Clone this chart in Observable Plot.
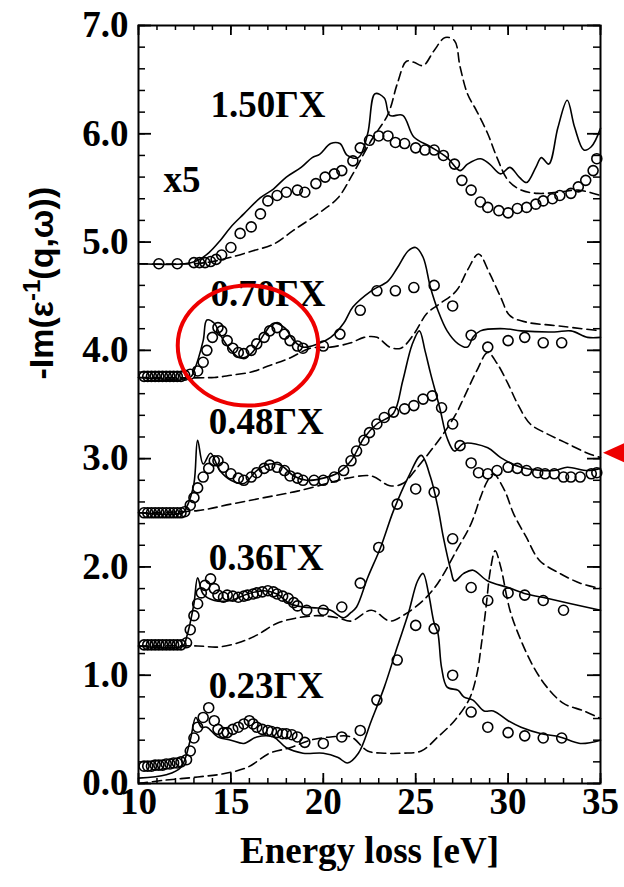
<!DOCTYPE html>
<html><head><meta charset="utf-8">
<script src="https://cdn.jsdelivr.net/npm/d3@7"></script>
<script src="https://cdn.jsdelivr.net/npm/@observablehq/plot@0.6"></script>
<style>body{margin:0;background:#fff} #chart svg{display:block}</style>
</head><body><div id="chart"></div>
<script>
// ---------- data (energy loss eV, -Im(1/eps) with vertical offsets as plotted) ----------
const qNames = ["1.50ΓX","0.70ΓX","0.48ΓX","0.36ΓX","0.23ΓX"];

// 1.50 GX (x5)
const s150 = [[10,4.80],[12.5,4.80],[13.2,4.83],[13.8,4.90],[14.4,5.01],[15.0,5.14],[15.7,5.26],[16.6,5.41],[17.3,5.49],[18.0,5.60],[18.8,5.69],[19.4,5.78],[19.8,5.81],[20.4,5.91],[20.9,5.91],[21.3,5.80],[21.9,5.78],[22.4,6.00],[22.8,6.37],[23.3,6.33],[23.6,6.17],[24.3,6.17],[24.9,5.97],[25.8,5.88],[26.7,5.78],[27.4,5.66],[27.8,5.72],[28.5,5.77],[29.0,5.72],[29.6,5.63],[30.1,5.69],[30.6,5.60],[31.0,5.55],[31.5,5.69],[31.8,5.78],[32.2,5.72],[32.7,6.06],[33.2,6.31],[33.6,6.06],[34.1,5.85],[34.5,5.88],[35.0,6.05]];
const d150 = [[10,4.80],[13.0,4.80],[14.0,4.82],[15.0,4.86],[16.2,4.92],[17.3,4.98],[18.4,5.11],[19.7,5.26],[20.8,5.41],[21.6,5.63],[22.6,5.94],[23.5,6.18],[24.0,6.46],[24.5,6.67],[24.9,6.66],[25.4,6.63],[26.0,6.77],[26.6,6.89],[27.1,6.86],[27.4,6.62],[27.8,6.37],[28.3,6.21],[28.9,6.00],[29.4,5.78],[30.0,5.57],[30.7,5.48],[31.6,5.45],[32.7,5.46],[33.8,5.48],[35.0,5.43]];
const c150 = [[11.1,4.80],[12.1,4.80],[13.0,4.81],[13.3,4.81],[13.6,4.81],[13.9,4.82],[14.2,4.84],[14.5,4.88],[15.0,4.95],[15.5,5.08],[16.1,5.14],[16.6,5.26],[17.0,5.38],[17.5,5.43],[18.0,5.46],[18.6,5.48],[19.0,5.46],[19.6,5.54],[20.1,5.60],[20.6,5.63],[21.0,5.66],[21.6,5.75],[22.0,5.87],[22.5,5.94],[23.0,5.98],[23.5,5.98],[23.9,5.92],[24.4,5.91],[25.0,5.87],[25.5,5.85],[26.0,5.85],[26.5,5.80],[27.1,5.72],[27.5,5.57],[28.0,5.48],[28.5,5.37],[28.9,5.32],[29.5,5.29],[30.0,5.27],[30.5,5.31],[31.0,5.32],[31.5,5.35],[31.9,5.38],[32.4,5.40],[32.8,5.43],[33.4,5.45],[33.8,5.51],[34.2,5.57],[34.6,5.66],[34.8,5.77]];

// 0.70 GX
const s070 = [[10,3.75],[12.8,3.75],[13.0,3.81],[13.5,4.09],[13.7,4.28],[14.1,4.25],[14.4,4.15],[15.0,4.00],[15.5,3.93],[16.1,3.97],[16.8,4.15],[17.3,4.25],[17.9,4.21],[18.4,4.09],[18.9,4.03],[19.7,4.06],[20.4,4.12],[21.1,4.25],[21.6,4.40],[22.6,4.55],[23.5,4.64],[24.0,4.76],[24.6,4.92],[25.0,4.95],[25.4,4.86],[25.8,4.58],[26.2,4.37],[26.7,4.18],[27.3,4.06],[27.8,4.03],[28.1,4.12],[28.5,4.18],[29.8,4.20],[30.7,4.18],[32.5,4.17],[33.4,4.18],[34.3,4.12],[35.0,4.12]];
const d070 = [[10,3.75],[14.1,3.75],[15.0,3.77],[16.1,3.80],[17.1,3.86],[18.2,3.93],[19.3,4.02],[20.4,4.03],[21.5,4.07],[22.2,4.12],[22.9,4.12],[23.6,4.03],[24.2,4.02],[24.9,4.15],[25.6,4.34],[26.3,4.43],[27.2,4.55],[27.8,4.74],[28.4,4.89],[29.0,4.71],[29.6,4.49],[30.1,4.32],[31.0,4.26],[32.5,4.23],[33.5,4.21],[35.0,4.18]];
const c070 = [[10.3,3.76],[10.5,3.76],[10.7,3.76],[10.9,3.76],[11.1,3.76],[11.3,3.76],[11.5,3.76],[11.7,3.76],[11.9,3.76],[12.1,3.76],[12.3,3.76],[12.5,3.77],[12.8,3.78],[13.2,3.81],[13.5,3.89],[13.7,4.00],[14.0,4.12],[14.3,4.21],[14.5,4.18],[14.8,4.09],[15.1,4.02],[15.4,3.98],[15.7,3.97],[16.1,4.00],[16.4,4.06],[16.8,4.12],[17.1,4.18],[17.5,4.21],[17.9,4.15],[18.2,4.09],[18.6,4.04],[18.9,4.02],[20.0,4.04],[20.9,4.15],[22.0,4.37],[22.9,4.55],[23.9,4.55],[24.9,4.58],[26.0,4.60],[27.0,4.41],[28.0,4.14],[28.9,4.03],[30.0,4.09],[30.9,4.12],[31.9,4.07],[32.9,4.07]];

// 0.48 GX
const s048 = [[10,2.50],[12.4,2.50],[12.6,2.55],[13.0,2.77],[13.2,3.17],[13.5,2.95],[13.9,3.05],[14.4,2.89],[15.0,2.80],[15.7,2.77],[16.4,2.89],[17.1,2.95],[17.7,2.94],[18.4,2.84],[19.1,2.80],[20.0,2.82],[20.8,2.87],[21.5,2.98],[22.2,3.19],[22.9,3.32],[23.8,3.42],[24.3,3.72],[24.8,4.05],[25.2,4.18],[25.5,4.00],[25.8,3.79],[26.3,3.47],[26.7,3.19],[27.1,3.07],[27.6,3.14],[28.9,3.10],[29.6,3.01],[30.7,2.92],[32.5,2.89],[33.2,2.92],[34.3,2.89],[35.0,2.91]];
const d048 = [[10,2.50],[13.2,2.52],[15.0,2.58],[16.8,2.64],[18.6,2.70],[20.4,2.78],[21.3,2.82],[22.6,2.84],[23.6,2.75],[24.3,2.77],[25.1,2.92],[25.8,3.07],[26.5,3.23],[27.2,3.42],[27.6,3.56],[28.3,3.81],[28.9,3.98],[29.4,3.88],[30.0,3.69],[30.5,3.51],[31.2,3.32],[32.1,3.23],[33.2,3.14],[34.3,3.05],[35.0,3.01]];
const c048 = [[10.3,2.50],[10.5,2.50],[10.7,2.50],[10.9,2.50],[11.1,2.50],[11.3,2.50],[11.5,2.50],[11.7,2.50],[11.9,2.50],[12.1,2.50],[12.3,2.50],[12.5,2.51],[12.8,2.57],[13.0,2.64],[13.2,2.73],[13.5,2.83],[13.8,2.91],[14.1,2.98],[14.3,2.98],[14.6,2.92],[15.0,2.86],[15.4,2.82],[15.7,2.80],[16.1,2.83],[16.4,2.87],[16.8,2.91],[17.1,2.94],[17.5,2.92],[17.9,2.89],[18.2,2.84],[18.6,2.82],[18.9,2.80],[19.5,2.80],[20.0,2.80],[20.6,2.83],[21.1,2.89],[21.5,2.98],[21.8,3.07],[22.2,3.17],[22.5,3.24],[22.9,3.32],[23.3,3.38],[23.8,3.43],[24.4,3.46],[24.9,3.49],[25.4,3.55],[25.9,3.58],[26.4,3.47],[27.0,3.32],[27.4,3.12],[28.0,2.96],[28.4,2.87],[28.9,2.86],[29.4,2.89],[30.0,2.92],[30.5,2.91],[31.0,2.89],[31.6,2.87],[32.0,2.86],[32.5,2.86],[33.0,2.83],[33.4,2.83],[33.9,2.83],[34.5,2.86],[34.8,2.87]];

// 0.36 GX
const s036 = [[10,1.27],[12.4,1.27],[12.6,1.35],[13.0,1.66],[13.2,1.90],[13.5,1.75],[14.1,1.69],[15.0,1.69],[15.9,1.75],[16.8,1.78],[17.5,1.75],[18.2,1.66],[18.9,1.63],[19.7,1.62],[20.4,1.60],[21.1,1.53],[21.5,1.58],[21.8,1.63],[22.4,1.90],[23.1,2.18],[23.8,2.52],[24.6,2.83],[25.3,3.03],[25.8,2.83],[26.2,2.55],[26.5,2.27],[26.9,1.97],[27.1,1.87],[27.6,1.94],[28.1,1.97],[28.9,1.87],[30.0,1.81],[31.0,1.75],[32.1,1.71],[33.4,1.66],[35.0,1.60]];
const d036 = [[10,1.27],[13.2,1.27],[14.3,1.26],[15.4,1.30],[16.4,1.37],[17.5,1.48],[18.6,1.53],[19.7,1.55],[20.8,1.53],[21.5,1.50],[22.6,1.60],[23.6,1.50],[24.3,1.55],[25.4,1.69],[26.2,1.85],[27.2,2.15],[28.0,2.40],[28.5,2.64],[28.9,2.80],[29.2,2.86],[29.8,2.71],[30.3,2.49],[31.0,2.27],[31.7,2.06],[32.8,1.94],[33.9,1.85],[35.0,1.80]];
const c036 = [[10.3,1.28],[10.5,1.28],[10.7,1.28],[10.9,1.28],[11.1,1.28],[11.3,1.28],[11.5,1.28],[11.7,1.28],[11.9,1.28],[12.1,1.28],[12.3,1.28],[12.6,1.30],[12.8,1.42],[13.0,1.55],[13.2,1.66],[13.4,1.76],[13.6,1.83],[13.9,1.89],[14.1,1.80],[14.3,1.74],[14.6,1.72],[14.8,1.74],[15.1,1.73],[15.4,1.72],[15.7,1.73],[15.9,1.74],[16.2,1.75],[16.4,1.76],[16.7,1.77],[17.0,1.78],[17.3,1.77],[17.5,1.75],[17.8,1.73],[18.1,1.71],[18.4,1.67],[18.6,1.64],[19.1,1.60],[20.0,1.60],[21.0,1.63],[22.0,1.85],[23.0,2.18],[24.0,2.58],[25.0,2.72],[26.0,2.69],[27.0,2.26],[28.0,1.81],[28.9,1.69],[30.0,1.76],[30.9,1.74],[31.9,1.69],[33.0,1.60]];

// 0.23 GX
const s023 = [[10,0.05],[11.5,0.08],[12.3,0.15],[12.8,0.40],[13.1,0.61],[13.4,0.52],[13.7,0.52],[14.3,0.43],[15.0,0.40],[15.7,0.37],[16.4,0.43],[17.3,0.43],[18.0,0.33],[18.9,0.28],[20.0,0.28],[20.8,0.24],[21.3,0.19],[21.9,0.28],[22.6,0.58],[23.3,0.89],[24.0,1.26],[24.6,1.57],[25.1,1.87],[25.4,1.94],[25.7,1.75],[26.0,1.48],[26.2,1.39],[26.4,1.07],[26.7,0.89],[27.3,0.86],[27.6,0.80],[28.1,0.77],[28.7,0.67],[29.2,0.67],[30.0,0.58],[30.7,0.52],[31.8,0.46],[32.8,0.43],[33.9,0.37],[35.0,0.40]];
const d023 = [[10,0.00],[11.4,0.03],[13.2,0.06],[14.6,0.09],[15.9,0.15],[17.1,0.28],[18.2,0.33],[19.3,0.40],[20.4,0.43],[21.5,0.43],[22.4,0.30],[23.3,0.28],[24.3,0.28],[25.3,0.30],[26.2,0.43],[27.1,0.58],[27.9,0.78],[28.3,1.00],[28.55,1.28],[28.8,1.62],[29.05,1.98],[29.3,2.15],[29.6,2.00],[30.1,1.60],[30.7,1.32],[31.4,1.07],[32.1,0.89],[33.0,0.74],[34.1,0.67],[35.0,0.60]];
const c023 = [[10.3,0.16],[10.5,0.16],[10.7,0.16],[10.9,0.17],[11.1,0.17],[11.3,0.17],[11.5,0.18],[11.7,0.18],[11.9,0.19],[12.1,0.19],[12.3,0.20],[12.6,0.22],[12.8,0.30],[13.0,0.42],[13.2,0.52],[13.5,0.61],[13.8,0.70],[14.1,0.58],[14.3,0.50],[14.6,0.47],[14.8,0.47],[15.1,0.50],[15.4,0.52],[15.7,0.55],[16.0,0.58],[16.2,0.55],[16.4,0.52],[16.7,0.50],[17.0,0.49],[17.2,0.48],[17.5,0.47],[17.8,0.46],[18.0,0.46],[18.3,0.45],[18.6,0.43],[19.0,0.38],[20.0,0.37],[21.0,0.43],[22.0,0.49],[22.9,0.77],[24.0,1.14],[25.0,1.46],[26.0,1.43],[27.0,1.00],[28.0,0.66],[28.9,0.52],[30.0,0.47],[30.9,0.44],[31.9,0.42],[32.9,0.42]];

// ticks
const xMajor = [10,15,20,25,30,35];
const xTickLabels = ["10","15","20","25","30","35"];
const yMajor = [0,1,2,3,4,5,6,7];
const yTickLabels = ["0.0","1.0","2.0","3.0","4.0","5.0","6.0","7.0"];
const xMinor = d3.range(10, 35.01, 1);
const yMinor = d3.range(0, 7.001, 0.2);

// ---------- tables ----------
const solids = [s150,s070,s048,s036,s023];
const dashes = [d150,d070,d048,d036,d023];
const circs  = [c150,c070,c048,c036,c023];
const toRows = (sets) => sets.flatMap((arr, k) => arr.map(([E, I]) => ({E, I, q: qNames[k]})));
const solidRows = toRows(solids), dashRows = toRows(dashes), circRows = toRows(circs);

// annotation placement (data units)
const labelPos = [[13.9,6.26],[13.9,4.52],[13.8,3.34],[13.8,2.08],[13.8,0.90]];
const scaleNote = {text: "x5", E: 11.35, I: 5.57};
const highlight = {cE: 15.95, cI: 4.04, rE: 3.8, rI: 0.555};
const marker = {E: 35, I: 3.05};

const W = 624, H = 887, mL = 138, mR = 24, mT = 25, mB = 104;
const fh = H - mT - mB, fw = W - mL - mR;
const serif = "'Liberation Serif', 'Times New Roman', serif";
const big = {fontFamily: serif, fontWeight: "bold", fontSize: 37, fill: "black"};

function annotations(index, scales) {
  const g = d3.create("svg:g");
  const cx = scales.x(highlight.cE), cy = scales.y(highlight.cI);
  g.append("ellipse").attr("cx", cx).attr("cy", cy)
    .attr("rx", Math.abs(scales.x(highlight.cE + highlight.rE) - cx))
    .attr("ry", Math.abs(scales.y(highlight.cI + highlight.rI) - cy))
    .attr("fill", "none").attr("stroke", "#ee0000").attr("stroke-width", 4);
  const tx = scales.x(marker.E) + 3, ty = scales.y(marker.I);
  g.append("path").attr("d", `M${tx},${ty}L${tx + 22},${ty - 10}L${tx + 22},${ty + 10}Z`).attr("fill", "#ee0000");
  return g.node();
}

const chart = Plot.plot({
  width: W, height: H, marginLeft: mL, marginRight: mR, marginTop: mT, marginBottom: mB,
  x: {domain: [10, 35], axis: null},
  y: {domain: [0, 7], axis: null},
  style: {background: "white", overflow: "visible"},
  marks: [
    Plot.line(dashRows, {x: "E", y: "I", z: "q", stroke: "black", strokeWidth: 1.6, strokeDasharray: "9,5", curve: "catmull-rom"}),
    Plot.line(solidRows, {x: "E", y: "I", z: "q", stroke: "black", strokeWidth: 1.6, curve: "catmull-rom"}),
    Plot.dot(circRows, {x: "E", y: "I", r: 5, stroke: "black", strokeWidth: 1.6, fill: "none"}),
    // ticks, inward, all four sides
    Plot.ruleX(xMinor, {x: d => d, insetTop: fh - 5, strokeWidth: 1.5}),
    Plot.ruleX(xMinor, {x: d => d, insetBottom: fh - 5, strokeWidth: 1.5}),
    Plot.ruleX(xMajor, {x: d => d, insetTop: fh - 10, strokeWidth: 1.8}),
    Plot.ruleX(xMajor, {x: d => d, insetBottom: fh - 10, strokeWidth: 1.8}),
    Plot.ruleY(yMinor, {y: d => d, insetRight: fw - 7, strokeWidth: 1.5}),
    Plot.ruleY(yMinor, {y: d => d, insetLeft: fw - 7, strokeWidth: 1.5}),
    Plot.ruleY(yMajor, {y: d => d, insetRight: fw - 13, strokeWidth: 1.8}),
    Plot.ruleY(yMajor, {y: d => d, insetLeft: fw - 13, strokeWidth: 1.8}),
    Plot.frame({stroke: "black", strokeWidth: 2}),
    // tick labels
    Plot.text(xMajor, {x: d => d, text: (d, i) => xTickLabels[i], frameAnchor: "bottom", dy: 30, ...big}),
    Plot.text(yMajor, {y: d => d, text: (d, i) => yTickLabels[i], frameAnchor: "left", dx: -10, textAnchor: "end", ...big}),
    // axis titles
    Plot.text(["Energy loss [eV]"], {frameAnchor: "bottom", dy: 79, ...big}),
    Plot.text(["-Im(ε-1(q,ω))"], {frameAnchor: "left", dx: -96, dy: -25, rotate: -90,
      fontFamily: "'Liberation Sans', Arial, sans-serif", fontWeight: "bold", fontSize: 34, fill: "black"}),
    // spectrum labels
    Plot.text(qNames, {x: (d, i) => labelPos[i][0], y: (d, i) => labelPos[i][1], textAnchor: "start", ...big}),
    Plot.text([scaleNote], {x: "E", y: "I", text: "text", textAnchor: "start", ...big}),
    annotations
  ]
});
document.getElementById("chart").appendChild(chart);

// superscript in y title
d3.select(chart).selectAll("text").each(function() {
  if (this.textContent === "-Im(ε-1(q,ω))") {
    const t = d3.select(this);
    t.text(null);
    t.append("tspan").text("-Im(ε");
    t.append("tspan").attr("dy", -13).attr("font-size", 24).text("-1");
    t.append("tspan").attr("dy", 13).text("(q,ω))");
  }
});
</script></body></html>
